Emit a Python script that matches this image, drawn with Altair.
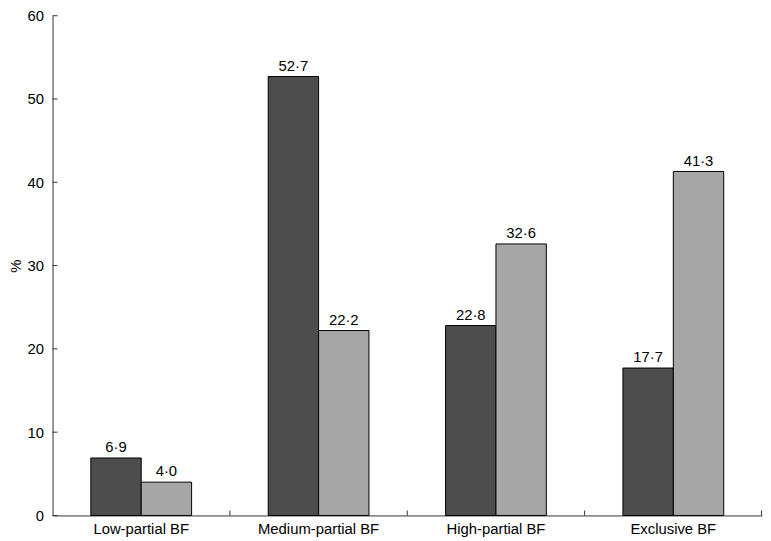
import altair as alt
import pandas as pd

categories = ["Low-partial BF", "Medium-partial BF", "High-partial BF", "Exclusive BF"]
series = ["Group 1", "Group 2"]
values_1 = [6.9, 52.7, 22.8, 17.7]
values_2 = [4.0, 22.2, 32.6, 41.3]
y_ticks = [0, 10, 20, 30, 40, 50, 60]

rows = []
for c, a, b in zip(categories, values_1, values_2):
    rows.append({"cat": c, "series": series[0], "value": a, "label": f"{a:.1f}".replace(".", "·")})
    rows.append({"cat": c, "series": series[1], "value": b, "label": f"{b:.1f}".replace(".", "·")})
df = pd.DataFrame(rows)

W, H = 717, 505
FONT = "Liberation Sans"
FS = 15
AXC = "#333333"

x_scale = alt.Scale(domain=categories, paddingInner=0, paddingOuter=0)
y_scale = alt.Scale(domain=[0, 60], nice=False)
xo_scale = alt.Scale(domain=series, paddingInner=0, paddingOuter=0.76)

bars = alt.Chart(df).mark_bar(stroke="black", strokeWidth=1).encode(
    x=alt.X("cat:N", scale=x_scale, sort=categories,
            axis=alt.Axis(title=None, labelAngle=0, ticks=False, domainColor=AXC,
                          labelFont=FONT, labelFontSize=FS, labelColor="black",
                          labelPadding=6)),
    xOffset=alt.XOffset("series:N", scale=xo_scale, sort=series),
    y=alt.Y("value:Q", scale=y_scale,
            axis=alt.Axis(title="%", values=y_ticks, ticks=False, grid=False,
                          domainColor=AXC, labelFont=FONT, labelFontSize=FS,
                          labelColor="black", labelPadding=9,
                          titleFont=FONT, titleFontSize=FS, titleFontWeight="normal",
                          titleColor="black", titlePadding=4)),
    color=alt.Color("series:N", scale=alt.Scale(domain=series, range=["#4d4d4d", "#a6a6a6"]),
                    legend=None),
)

texts = alt.Chart(df).mark_text(font=FONT, fontSize=FS, color="black",
                                baseline="alphabetic", dy=-6).encode(
    x=alt.X("cat:N", scale=x_scale, sort=categories),
    xOffset=alt.XOffset("series:N", scale=xo_scale, sort=series),
    y=alt.Y("value:Q", scale=y_scale),
    text="label:N",
)

ytick_df = pd.DataFrame({"t": y_ticks})
yticks = alt.Chart(ytick_df).mark_rule(color=AXC, strokeWidth=1).encode(
    y=alt.Y("t:Q", scale=y_scale),
    x=alt.value(0), x2=alt.value(5),
)

xtick_df = pd.DataFrame({"cat": categories[1:]})
xticks = alt.Chart(xtick_df).mark_rule(color=AXC, strokeWidth=1).encode(
    x=alt.X("cat:N", scale=x_scale, sort=categories, bandPosition=0),
    y=alt.value(H), y2=alt.value(H - 5),
)
xtick_end = alt.Chart(pd.DataFrame({"e": [1]})).mark_rule(color=AXC, strokeWidth=1).encode(
    x=alt.value(W - 0.5), y=alt.value(H), y2=alt.value(H - 5),
)

chart = alt.layer(bars, texts, yticks, xticks, xtick_end).properties(
    width=W, height=H,
    autosize=alt.AutoSizeParams(type="none"),
    padding={"left": 45, "top": 5, "right": 1, "bottom": 23},
).configure_view(stroke=None).configure_axis(domainWidth=1)

chart.save("out.html", embed_options={"renderer": "svg", "actions": False})
